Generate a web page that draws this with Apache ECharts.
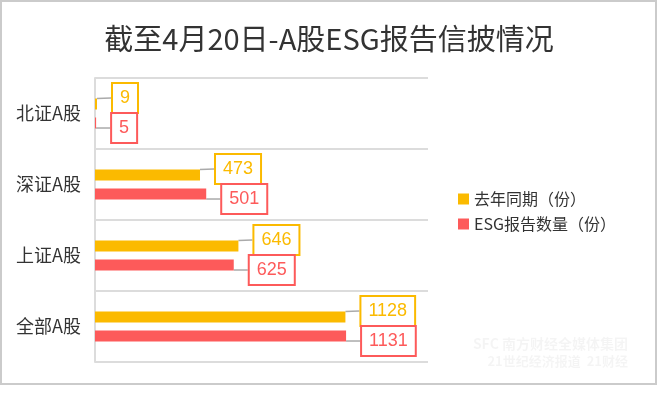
<!DOCTYPE html>
<html>
<head>
<meta charset="utf-8">
<script src="https://cdn.jsdelivr.net/npm/echarts@6/dist/echarts.min.js"></script>
<style>
  html, body { margin: 0; padding: 0; background: #fff; }
  #frame { position: absolute; left: 0; top: 0; width: 653px; height: 381px; border: 2px solid #cbcbcb; }
  #main { position: absolute; left: 0; top: 0; width: 658px; height: 398px; }
</style>
</head>
<body>
<div id="frame"></div>
<div id="main"></div>
<script>
// 数据
var categories = ['北证A股', '深证A股', '上证A股', '全部A股']
var lastYear = [9, 473, 646, 1128]
var reportCount = [5, 501, 625, 1131]
var seriesNames = ['去年同期（份）', 'ESG报告数量（份）']

var yellow = '#fbba00'
var red = '#fd5a5a'
var font = 'Noto Sans CJK SC'

function labelOf(color) {
    return {
        show: true,
        position: 'right',
        distance: 16,
        color: color,
        fontSize: 18,
        fontFamily: 'Liberation Sans',
        backgroundColor: '#fff',
        borderColor: color,
        borderWidth: 2,
        padding: [6, 7, 4, 7]
    }
}

var myChart = echarts.init(document.getElementById('main'))
var option = {
    textStyle: { fontFamily: font },
    title: {
        text: '截至4月20日-A股ESG报告信披情况',
        left: 'center',
        top: 19,
        textStyle: { fontSize: 29, fontWeight: 'normal', color: '#333', fontFamily: font }
    },
    legend: {
        orient: 'vertical',
        left: 453,
        top: 186,
        icon: 'rect',
        itemWidth: 11,
        itemHeight: 11,
        itemGap: 9,
        textStyle: { fontSize: 16, color: '#333', fontFamily: font },
        data: seriesNames
    },
    grid: { left: 95, top: 78, width: 333, height: 284 },
    xAxis: {
        type: 'value',
        min: 0,
        max: 1500,
        show: false
    },
    yAxis: {
        type: 'category',
        inverse: true,
        data: categories,
        axisTick: { show: false },
        axisLine: { lineStyle: { color: '#dcdcdc', width: 2 } },
        axisLabel: { fontSize: 18, color: '#333', margin: 14, fontFamily: font },
        splitLine: { show: true, lineStyle: { color: '#dcdcdc', width: 2 } }
    },
    series: [
        {
            name: seriesNames[0],
            type: 'bar',
            barWidth: 11,
            barGap: '73%',
            itemStyle: { color: yellow },
            label: labelOf(yellow),
            labelLayout: { dy: -6 },
            labelLine: { show: true, lineStyle: { color: '#aaa', width: 1.5 } },
            data: lastYear
        },
        {
            name: seriesNames[1],
            type: 'bar',
            barWidth: 11,
            itemStyle: { color: red },
            label: labelOf(red),
            labelLayout: { dy: 5 },
            labelLine: { show: true, lineStyle: { color: '#aaa', width: 1.5 } },
            data: reportCount
        }
    ],
    graphic: [
        {
            type: 'text', right: 30, bottom: 47,
            style: { text: 'SFC 南方财经全媒体集团', fontSize: 14, fontWeight: 'bold', fill: 'rgba(0,0,0,0.045)', fontFamily: font }
        },
        {
            type: 'text', right: 30, bottom: 30,
            style: { text: '21世纪经济报道  21财经', fontSize: 13, fontWeight: 'bold', fill: 'rgba(0,0,0,0.045)', fontFamily: font }
        }
    ]
}
myChart.setOption(option)
</script>
</body>
</html>
